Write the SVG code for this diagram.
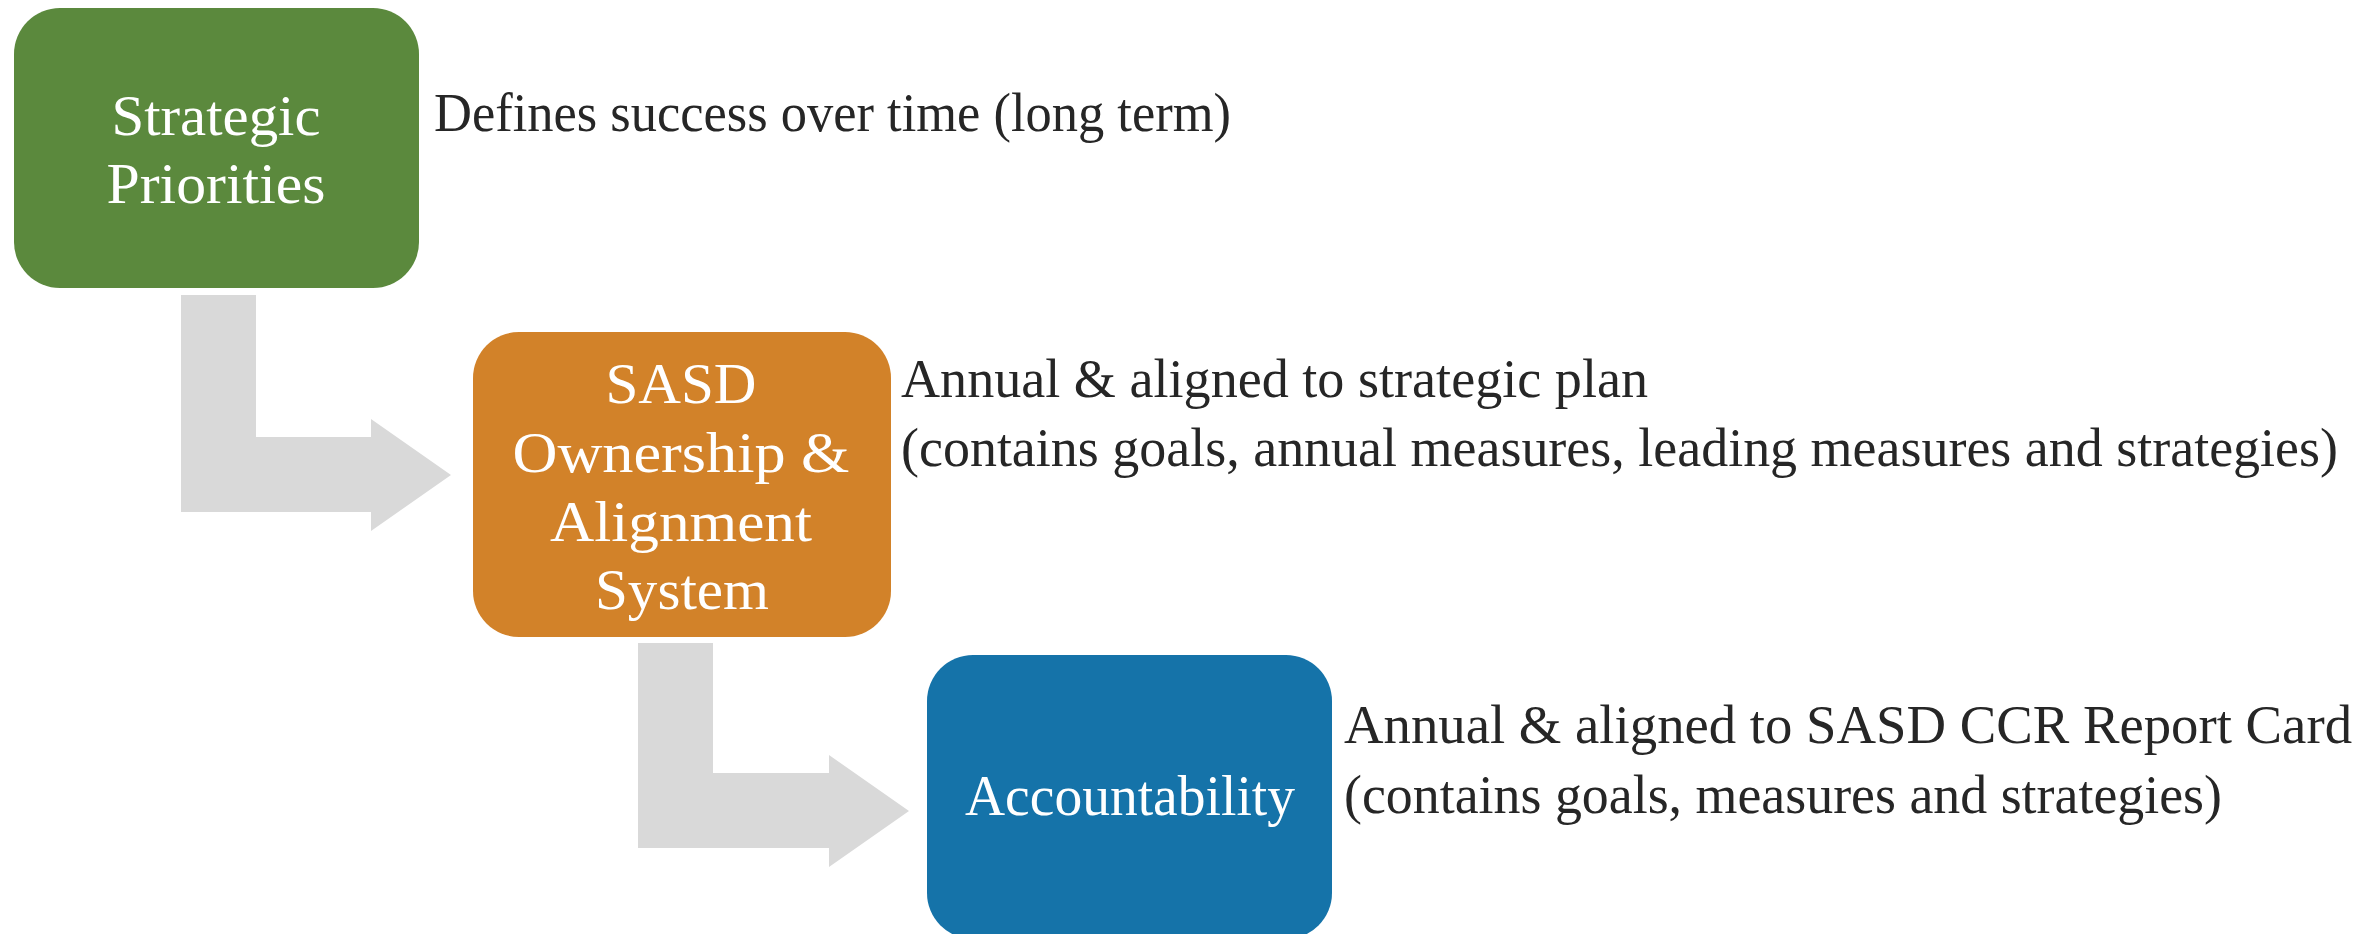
<svg xmlns="http://www.w3.org/2000/svg" width="2379" height="934" viewBox="0 0 2379 934">
  <style>
    .box-label { font-family: "Liberation Serif", "Times New Roman", serif; font-size: 58px; fill: #ffffff; text-anchor: middle; }
    .note { font-family: "Liberation Serif", "Times New Roman", serif; font-size: 54px; fill: #262626; }
    .flow { fill: #d9d9d9; }
  </style>
  <rect width="2379" height="934" fill="#ffffff"/>

  <!-- bent arrows linking the stages -->
  <g id="connectors">
    <polygon class="flow" points="181,295 256,295 256,437 371,437 371,419 451,475 371,531 371,512 181,512"/>
    <polygon class="flow" points="638,643 713,643 713,773 829,773 829,755 909,811 829,867 829,848 638,848"/>
  </g>

  <g id="strategic-priorities">
    <rect x="14" y="8" width="405" height="280" rx="46" ry="46" fill="#5b893d"/>
    <text class="box-label" x="216" y="135" textLength="209" lengthAdjust="spacingAndGlyphs">Strategic</text>
    <text class="box-label" x="216" y="203" textLength="219" lengthAdjust="spacingAndGlyphs">Priorities</text>
  </g>

  <g id="ownership-alignment">
    <rect x="473" y="332" width="418" height="305" rx="46" ry="46" fill="#d28229"/>
    <text class="box-label" x="681" y="403" textLength="151" lengthAdjust="spacingAndGlyphs">SASD</text>
    <text class="box-label" x="681" y="472" textLength="337" lengthAdjust="spacingAndGlyphs">Ownership &amp;</text>
    <text class="box-label" x="681" y="541" textLength="262" lengthAdjust="spacingAndGlyphs">Alignment</text>
    <text class="box-label" x="682" y="609" textLength="174" lengthAdjust="spacingAndGlyphs">System</text>
  </g>

  <g id="accountability">
    <rect x="927" y="655" width="405" height="284" rx="46" ry="46" fill="#1573a9"/>
    <text class="box-label" x="1130" y="815" textLength="330" lengthAdjust="spacingAndGlyphs">Accountability</text>
  </g>

  <g id="notes">
    <text class="note" x="434" y="131" textLength="797" lengthAdjust="spacingAndGlyphs">Defines success over time (long term)</text>
    <text class="note" x="901" y="397" textLength="747" lengthAdjust="spacingAndGlyphs">Annual &amp; aligned to strategic plan</text>
    <text class="note" x="901" y="466" textLength="1437" lengthAdjust="spacingAndGlyphs">(contains goals, annual measures, leading measures and strategies)</text>
    <text class="note" x="1344" y="743" textLength="1008" lengthAdjust="spacingAndGlyphs">Annual &amp; aligned to SASD CCR Report Card</text>
    <text class="note" x="1344" y="813" textLength="878" lengthAdjust="spacingAndGlyphs">(contains goals, measures and strategies)</text>
  </g>
</svg>
